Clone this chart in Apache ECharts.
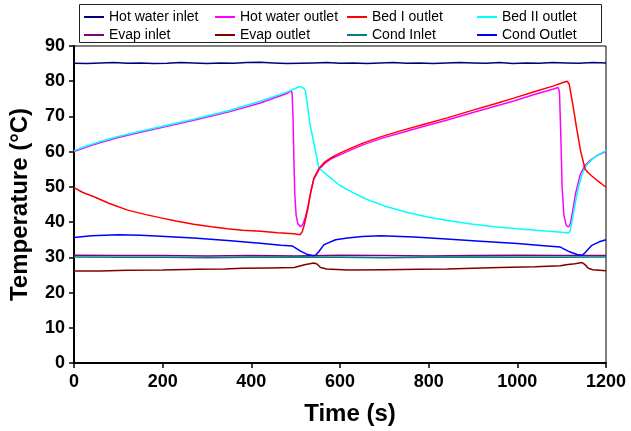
<!DOCTYPE html>
<html>
<head>
<meta charset="utf-8">
<script src="https://cdn.jsdelivr.net/npm/echarts@6/dist/echarts.min.js"></script>
<style>html,body{margin:0;padding:0;background:#fff}#c{width:631px;height:431px}</style>
</head>
<body>
<div id="c"></div>
<script>
// ---- data (time in s, temperature in °C) ----
const seriesNames = ['Hot water inlet','Hot water outlet','Bed I outlet','Bed II outlet','Evap inlet','Evap outlet','Cond Inlet','Cond Outlet'];
const xTicks = [0,200,400,600,800,1000,1200];
const yTicks = [0,10,20,30,40,50,60,70,80,90];

const tHotIn = [0,30,60,90,120,150,180,210,240,270,300,330,360,390,420,450,480,510,540,570,600,630,660,690,720,750,780,810,840,870,900,930,960,990,1020,1050,1080,1110,1140,1170,1200];
const hotIn = [85.1,85.0,85.2,85.3,85.1,85.2,85.0,85.1,85.3,85.2,85.0,85.2,85.1,85.3,85.4,85.2,85.0,85.1,85.2,85.3,85.1,85.2,85.0,85.2,85.3,85.1,85.2,85.0,85.2,85.3,85.2,85.1,85.3,85.0,85.2,85.1,85.3,85.2,85.1,85.3,85.2];

const tHotOut = [0,30,60,100,150,200,270,350,420,480,490,492,494,496,498,501,505,511,516,521,527,534,541,553,565,579,600,625,653,692,736,790,842,900,950,992,1040,1080,1092,1095,1098,1101,1105,1110,1115,1119,1124,1132,1142,1152,1165,1180,1200];
const hotOut = [60.0,61.4,62.6,64.0,65.5,66.9,68.9,71.3,73.8,76.5,77.3,76.5,70.0,58.0,48.0,42.0,39.5,38.7,39.3,41.0,44.0,48.5,52.2,55.0,56.6,57.9,59.1,60.5,62.0,63.7,65.3,67.2,69.0,71.1,72.9,74.4,76.3,77.7,78.2,77.0,65.0,50.0,42.0,39.2,38.6,39.3,42.5,48.5,53.5,56.0,57.6,58.9,60.1];

const tBed1 = [0,20,45,80,121,160,196,230,270,310,346,380,421,460,496,510,515,520,527,534,541,553,565,579,600,625,653,692,736,790,842,900,950,992,1040,1080,1105,1112,1117,1125,1134,1143,1153,1160,1168,1180,1190,1200];
const bed1 = [49.8,48.4,47.2,45.3,43.4,42.2,41.2,40.3,39.4,38.7,38.1,37.7,37.4,37.0,36.7,36.4,37.3,39.5,43.5,48.5,52.5,55.3,57.0,58.2,59.6,61.0,62.5,64.2,65.9,67.8,69.6,71.8,73.6,75.2,77.1,78.6,79.7,80.0,79.2,73.5,66.5,60.0,55.0,54.0,53.1,51.8,50.9,49.9];

const tBed2 = [0,30,60,100,150,200,270,350,420,480,505,512,518,522,532,541,552,560,580,600,630,660,700,750,800,850,900,950,1000,1050,1100,1115,1119,1124,1130,1138,1147,1157,1170,1185,1200];
const bed2 = [60.3,61.7,62.9,64.3,65.8,67.2,69.2,71.7,74.3,76.9,78.3,78.5,78.0,77.4,68.0,62.5,55.5,54.5,52.4,50.4,48.3,46.5,44.6,42.8,41.4,40.3,39.4,38.7,38.1,37.6,37.1,36.9,37.5,40.5,45.0,50.0,54.0,56.3,58.0,59.3,60.3];

const tEvapIn = [0,100,200,300,400,500,600,700,800,900,1000,1100,1200];
const evapIn = [30.6,30.5,30.5,30.4,30.5,30.4,30.6,30.5,30.4,30.5,30.6,30.5,30.5];

const tEvapOut = [0,60,120,200,280,340,380,440,497,505,520,541,548,556,570,617,700,780,842,900,960,1040,1097,1110,1130,1146,1152,1160,1170,1200];
const evapOut = [26.1,26.1,26.3,26.4,26.6,26.7,26.9,27.0,27.1,27.4,27.9,28.4,28.1,27.1,26.7,26.4,26.5,26.6,26.7,26.9,27.1,27.3,27.6,27.9,28.2,28.5,28.0,26.9,26.5,26.2];

const tCondIn = [0,100,200,300,400,500,600,700,800,900,1000,1100,1200];
const condIn = [30.1,30.0,30.0,29.9,30.0,30.1,30.0,29.9,30.0,30.1,30.0,30.0,30.1];

const tCondOut = [0,40,99,150,196,270,346,420,467,493,512,525,538,545,552,564,590,617,650,692,767,840,917,1000,1060,1097,1119,1135,1146,1152,1168,1185,1200];
const condOut = [35.6,36.1,36.4,36.3,36.0,35.5,34.8,34.0,33.4,33.2,31.7,30.9,30.5,30.6,31.6,33.6,35.0,35.5,35.9,36.1,35.8,35.2,34.6,33.9,33.3,32.9,31.5,30.8,30.6,31.2,33.4,34.4,35.0];

const colors = ['#000080','#FF00FF','#FF0000','#00FFFF','#800080','#800000','#008080','#0000FF'];

function zip(t, v){ return t.map((x,i)=>[x, v[i]]); }
const allData = [zip(tHotIn,hotIn), zip(tHotOut,hotOut), zip(tBed1,bed1), zip(tBed2,bed2), zip(tEvapIn,evapIn), zip(tEvapOut,evapOut), zip(tCondIn,condIn), zip(tCondOut,condOut)];

const FONT = "Arial, 'Liberation Sans', sans-serif";
const legendPos = [[84,10],[215,10],[347,10],[477,10],[84,28],[215,28],[347,28],[477,28]];
const legends = seriesNames.map((n,i)=>({
  data:[n], left: legendPos[i][0], top: legendPos[i][1], padding:0,
  icon:'rect', itemWidth:20, itemHeight:2,
  textStyle:{fontFamily:FONT, fontSize:14, color:'#000'}, selectedMode:false
}));

// draw order: put cyan above magenta in first half
const order = [0,4,6,5,7,1,3,2];

const chart = echarts.init(document.getElementById('c'), null, {renderer:'canvas'});
chart.setOption({
  animation:false,
  backgroundColor:'#fff',
  color: colors,
  legend: legends,
  grid:{left:73, top:46, right:25, bottom:66, show:true, borderColor:'#000', borderWidth:1},
  graphic:[{type:'rect', shape:{x:79.5, y:4.5, width:522, height:38}, style:{fill:'none', stroke:'#222', lineWidth:1}, z:-1}],
  xAxis:{type:'value', min:0, max:1200, interval:200,
    name:'Time (s)', nameLocation:'middle', nameGap:39,
    nameTextStyle:{fontFamily:FONT, fontSize:24, fontWeight:'bold', color:'#000', padding:[0,0,0,20]},
    axisLine:{lineStyle:{color:'#000', width:2}},
    axisTick:{show:true, length:5, lineStyle:{color:'#000', width:1.5}},
    axisLabel:{fontFamily:FONT, fontSize:18, fontWeight:'bold', color:'#000', margin:10,
      formatter:v=>xTicks.includes(v)?String(v):''},
    splitLine:{show:false}},
  yAxis:{type:'value', min:0, max:90, interval:10,
    name:'Temperature (°C)', nameLocation:'middle', nameGap:42,
    nameTextStyle:{fontFamily:FONT, fontSize:24, fontWeight:'bold', color:'#000'},
    axisLine:{show:true, lineStyle:{color:'#000', width:2}},
    axisTick:{show:true, length:5, lineStyle:{color:'#000', width:1.5}},
    axisLabel:{fontFamily:FONT, fontSize:18, fontWeight:'bold', color:'#000', margin:9,
      formatter:v=>yTicks.includes(v)?String(v):''},
    splitLine:{show:false}},
  series: order.map(i=>({
    name: seriesNames[i], type:'line', data: allData[i], showSymbol:false, symbol:'none',
    lineStyle:{color:colors[i], width:1.5}, itemStyle:{color:colors[i]}, smooth:false, z: 2
  }))
});
</script>
</body>
</html>
